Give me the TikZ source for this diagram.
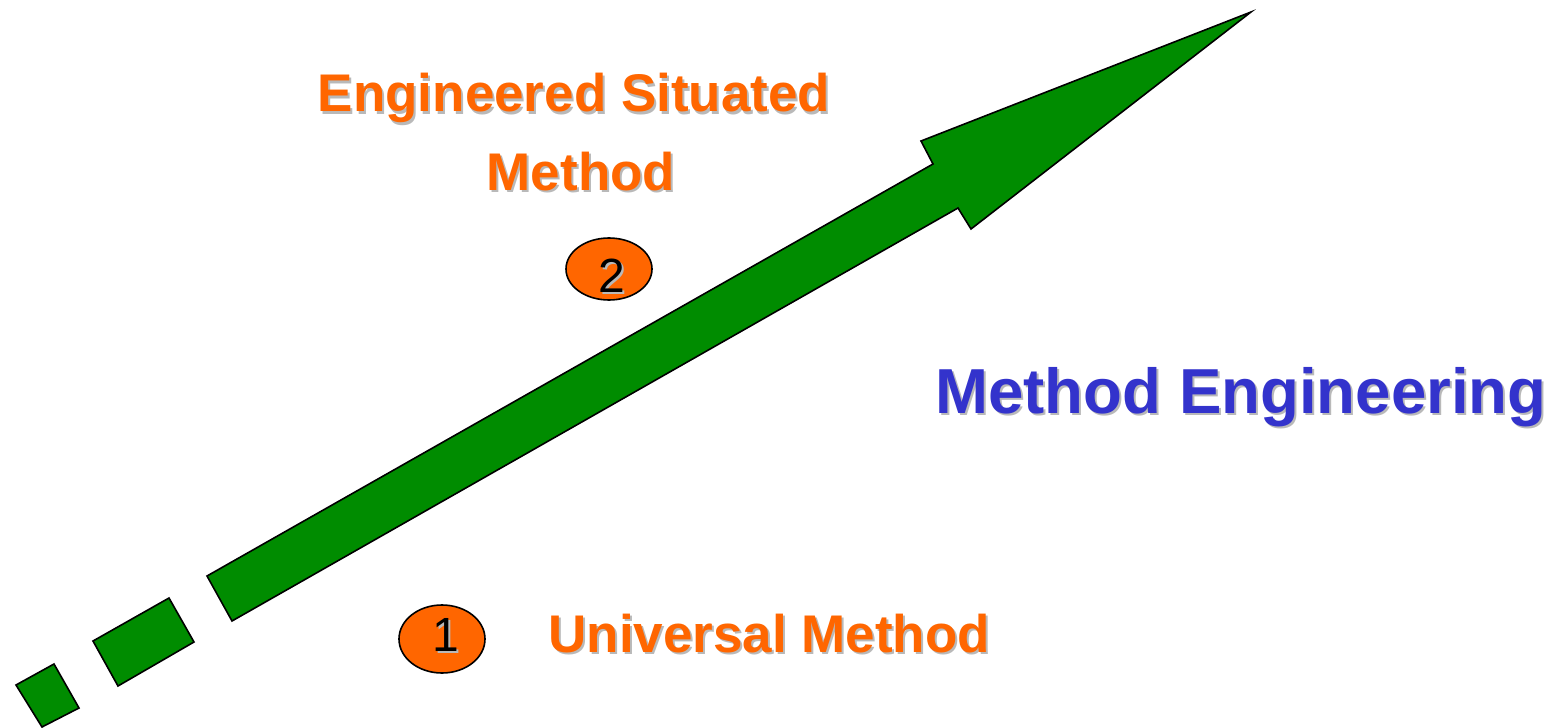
\documentclass[tikz,border=0pt]{standalone}
\usepackage{fontspec}
\setmainfont{Liberation Sans}
\usetikzlibrary{shapes.geometric}
\definecolor{arrowgreen}{RGB}{0,140,0}
\definecolor{labelorange}{RGB}{255,102,0}
\definecolor{titleblue}{RGB}{51,51,204}
\definecolor{shadowgray}{RGB}{185,185,185}

\begin{document}
\begin{tikzpicture}[
  x=0.5pt,y=-0.5pt,
  arrowpart/.style={draw=black,line width=0.8pt,fill=arrowgreen,line join=miter},
  step label/.style={font=\bfseries\fontsize{26.5}{30}\selectfont,
                     text=labelorange,inner sep=0pt,anchor=base},
  big title/.style={font=\bfseries\fontsize{31.8}{36}\selectfont,
                    text=titleblue,inner sep=0pt,anchor=base west},
  shade/.style={text=shadowgray},
  badge/.style={ellipse,draw=black,line width=0.8pt,fill=labelorange,
                minimum width=43pt,minimum height=32pt,inner sep=0pt},
  badgenum/.style={font=\fontsize{24}{26}\selectfont,inner sep=0pt},
]
\useasboundingbox (0,0) rectangle (1560,728);

% ---- the dashed tail of the green arrow ----
\draw[arrowpart] (16,685) -- (54,664) -- (79,708) -- (42,727) -- cycle;
\draw[arrowpart] (93,641) -- (169,598) -- (194,642) -- (118,686) -- cycle;

% ---- the green arrow itself ----
\draw[arrowpart] (207,576) -- (933,164) -- (921,141) -- (1251,12)
      -- (971,229) -- (958,208) -- (232,621) -- cycle;

% ---- step 2: engineered situated method ----
\node[step label,shade] (sitshadeA) at (576,114) {Engineered Situated};
\node[step label] (situatedA) at (574,112) {Engineered Situated};
\node[step label,shade] (sitshadeB) at (583,192) {Method};
\node[step label] (situatedB) at (581,190) {Method};
\node[badge,minimum height=31pt] (badgetwo) at (609,269) {};
\node[badgenum,shade] (numtwoshade) at ([xshift=1pt,yshift=-1pt]612,276) {2};
\node[badgenum] (numtwo) at (612,276) {2};

% ---- step 1: universal method ----
\node[badge,minimum height=34pt] (badgeone) at (442,639) {};
\node[badgenum,shade] (numoneshade) at ([xshift=1pt,yshift=-1pt]446,635) {1};
\node[badgenum] (numone) at (446,635) {1};
\node[step label,anchor=base west,shade] (unishade) at (550,654) {Universal Method};
\node[step label,anchor=base west] (universal) at (548,652) {Universal Method};

% ---- title on the right ----
\node[big title,shade] (titleshade) at (937,415) {Method Engineering};
\node[big title] (title) at (935,413) {Method Engineering};

\end{tikzpicture}
\end{document}
